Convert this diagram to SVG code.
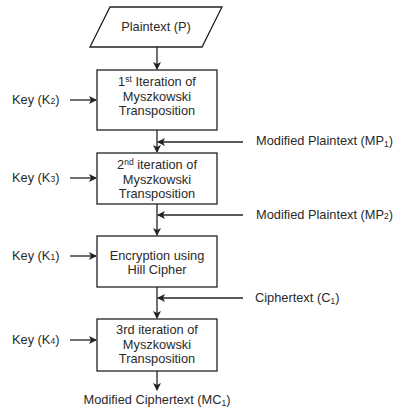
<svg xmlns="http://www.w3.org/2000/svg" width="395" height="411" viewBox="0 0 395 411">
<style>
.shape{fill:#fff;stroke:#222;stroke-width:1.3}
.edge{fill:none;stroke:#222;stroke-width:1.3}
text{font-family:"Liberation Sans",Arial,sans-serif;font-size:12.8px;fill:#2a2a2a}
.c{text-anchor:middle}
.sm{font-size:8.5px}
</style>
<defs>
<marker id="ah" markerWidth="8" markerHeight="8" refX="7" refY="4" orient="auto" markerUnits="userSpaceOnUse">
<path d="M0,0 L8,4 L0,8 L2,4 Z" fill="#222"/>
</marker>
</defs>
<rect width="395" height="411" fill="#fff"/>
<g id="connectors">
<line class="edge" x1="157" y1="47" x2="157" y2="69" marker-end="url(#ah)"/>
<line class="edge" x1="70" y1="100" x2="96" y2="100" marker-end="url(#ah)"/>
<line class="edge" x1="157" y1="130" x2="157" y2="152" marker-end="url(#ah)"/>
<line class="edge" x1="243" y1="142" x2="158" y2="142" marker-end="url(#ah)"/>
<line class="edge" x1="70" y1="178" x2="96" y2="178" marker-end="url(#ah)"/>
<line class="edge" x1="157" y1="204" x2="157" y2="235" marker-end="url(#ah)"/>
<line class="edge" x1="243" y1="215" x2="158" y2="215" marker-end="url(#ah)"/>
<line class="edge" x1="70" y1="256" x2="96" y2="256" marker-end="url(#ah)"/>
<line class="edge" x1="157" y1="287" x2="157" y2="318" marker-end="url(#ah)"/>
<line class="edge" x1="243" y1="298" x2="158" y2="298" marker-end="url(#ah)"/>
<line class="edge" x1="70" y1="340" x2="96" y2="340" marker-end="url(#ah)"/>
<line class="edge" x1="157" y1="371" x2="157" y2="390" marker-end="url(#ah)"/>
</g>
<g id="plaintext">
<polygon class="shape" points="110,7 222,7 202,47 90,47"/>
<text class="c" x="156" y="31">Plaintext (P)</text>
</g>
<g id="iter1">
<rect class="shape" x="97" y="70" width="120" height="60"/>
<text class="c" x="157" y="86">1<tspan class="sm" dy="-4">st</tspan><tspan dy="4"> Iteration of</tspan></text>
<text class="c" x="157" y="101">Myszkowski</text>
<text class="c" x="157" y="115">Transposition</text>
</g>
<g id="iter2">
<rect class="shape" x="97" y="153" width="120" height="51"/>
<text class="c" x="157" y="169">2<tspan class="sm" dy="-4">nd</tspan><tspan dy="4"> iteration of</tspan></text>
<text class="c" x="157" y="184">Myszkowski</text>
<text class="c" x="157" y="198">Transposition</text>
</g>
<g id="hill">
<rect class="shape" x="97" y="236" width="120" height="51"/>
<text class="c" x="157" y="260">Encryption using</text>
<text class="c" x="157" y="274">Hill Cipher</text>
</g>
<g id="iter3">
<rect class="shape" x="97" y="319" width="120" height="52"/>
<text class="c" x="157" y="334">3rd iteration of</text>
<text class="c" x="157" y="349">Myszkowski</text>
<text class="c" x="157" y="363">Transposition</text>
</g>
<g id="key2"><text x="12" y="104">Key (K<tspan class="sm">2</tspan>)</text></g>
<g id="key3"><text x="12" y="182">Key (K<tspan class="sm">3</tspan>)</text></g>
<g id="key1"><text x="12" y="260">Key (K<tspan class="sm">1</tspan>)</text></g>
<g id="key4"><text x="12" y="344">Key (K<tspan class="sm">4</tspan>)</text></g>
<g id="mp1"><text x="256" y="145">Modified Plaintext (MP<tspan class="sm" dy="2">1</tspan><tspan dy="-2">)</tspan></text></g>
<g id="mp2"><text x="256" y="219">Modified Plaintext (MP<tspan class="sm">2</tspan>)</text></g>
<g id="c1"><text x="255" y="302">Ciphertext (C<tspan class="sm" dy="2">1</tspan><tspan dy="-2">)</tspan></text></g>
<g id="mc1"><text class="c" x="157" y="404">Modified Ciphertext (MC<tspan class="sm" dy="2">1</tspan><tspan dy="-2">)</tspan></text></g>
</svg>
